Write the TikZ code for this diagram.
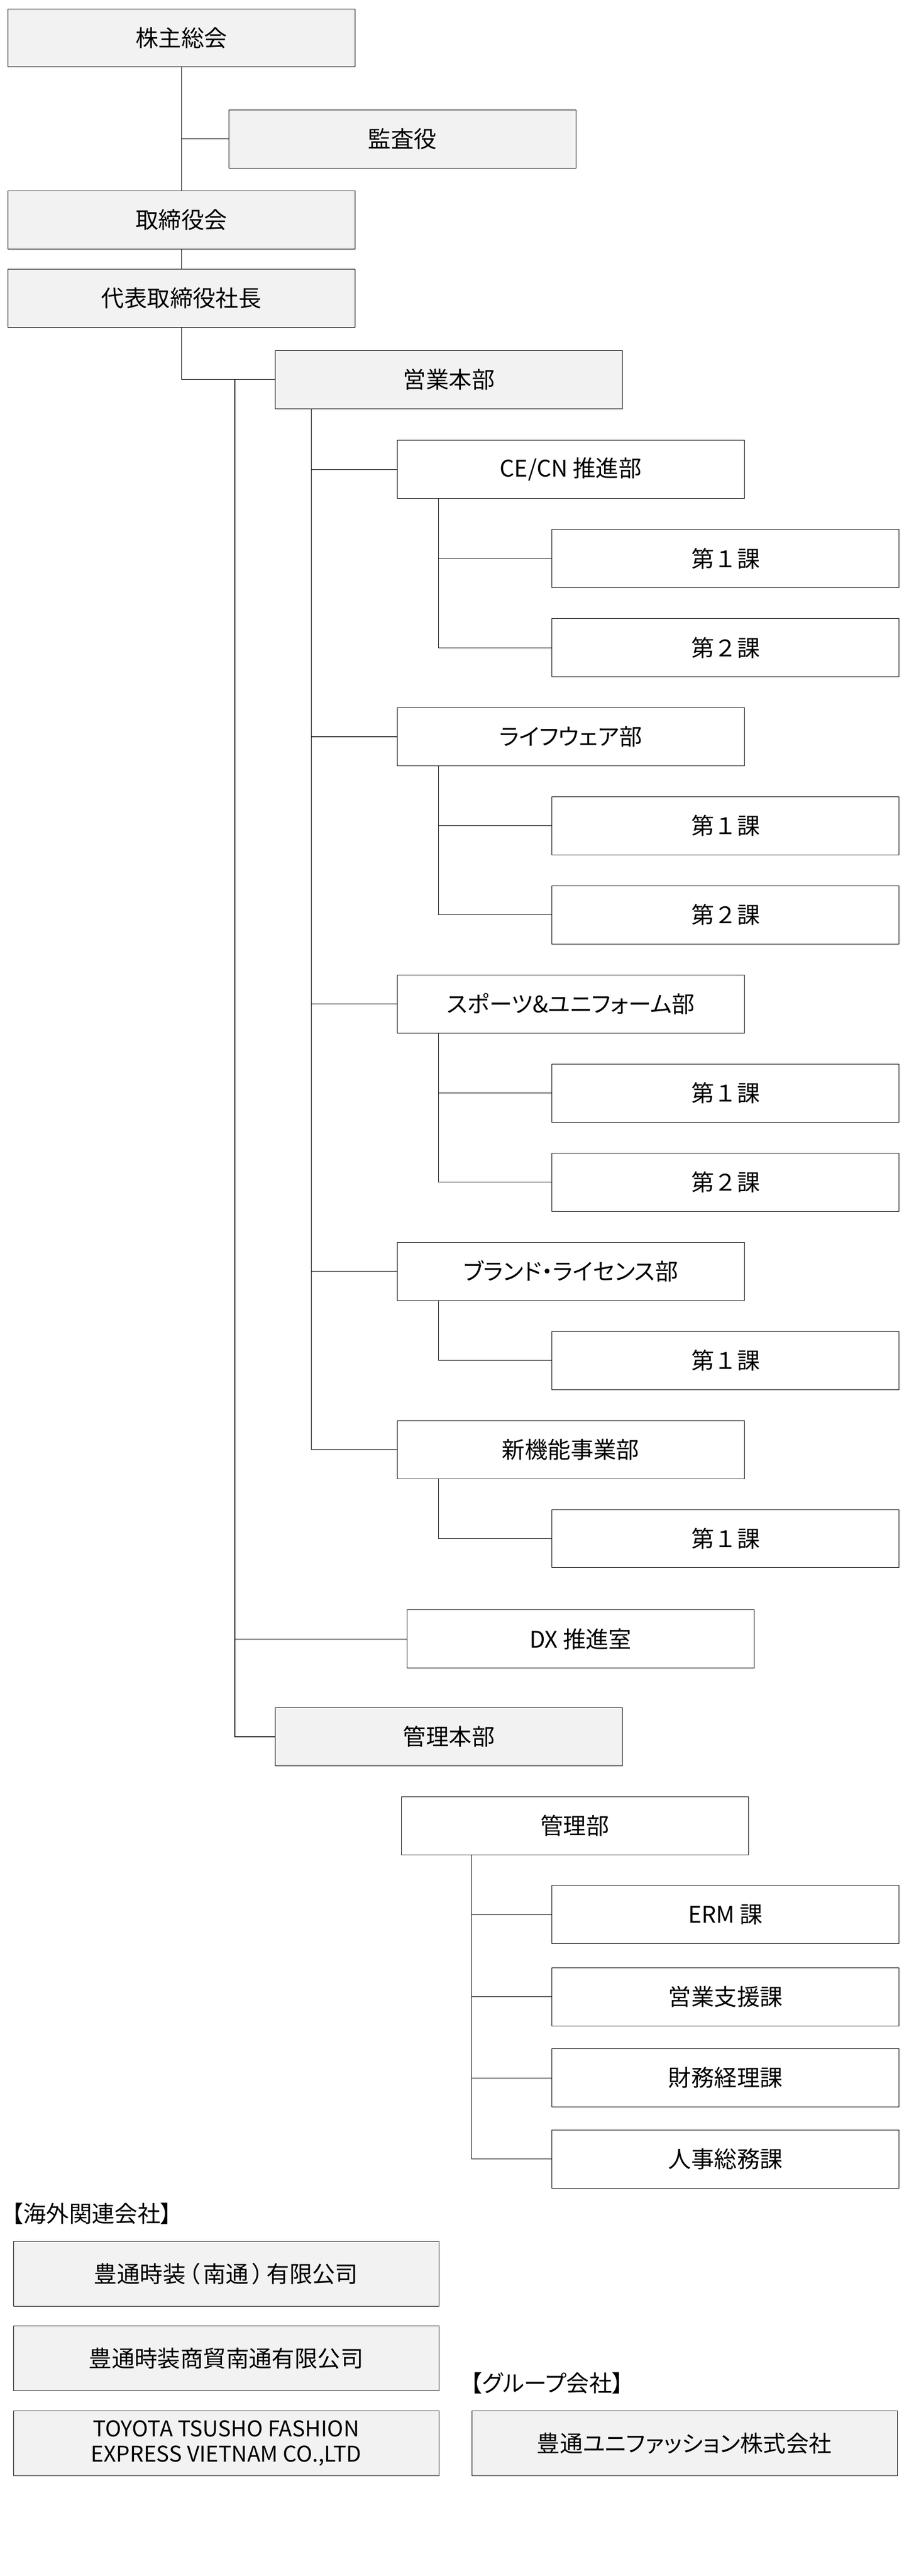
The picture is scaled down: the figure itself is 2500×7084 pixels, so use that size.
\documentclass[tikz,border=0pt]{standalone}
\usepackage{fontspec}
\setmainfont{Noto Sans CJK JP}[RawFeature=+palt]
\newfontfamily\jpfull{Noto Sans CJK JP}
\usepackage{tikz}
\usetikzlibrary{positioning}
\definecolor{boxgray}{HTML}{F2F2F2}

\begin{document}
\begin{tikzpicture}[x=0.1mm,y=-0.1mm,
    orgbox/.style={draw=black,line width=0.3pt,minimum width=95.5mm,
        minimum height=16mm,inner sep=0pt,font=\fontsize{17.9}{21}\selectfont},
    hqbox/.style={orgbox,fill=boxgray},
    unitbox/.style={orgbox,fill=white},
    cobox/.style={orgbox,fill=boxgray,minimum width=117mm,minimum height=17.9mm,
        align=center},
    heading/.style={anchor=west,inner sep=0pt,font=\fontsize{17.9}{21}\selectfont},
    conn/.style={line width=0.45pt}]

\useasboundingbox (0,0) rectangle (2500,7084);

% top of the chart
\node[hqbox,minimum height=15.8mm] (kabunushi) at (499,104) {株主総会};
\node[hqbox] (kansa) at (1107,382) {監査役};
\node[hqbox] (torishimari) at (499,605) {取締役会};
\node[hqbox] (shacho) at (499,820) {代表取締役社長};
\node[hqbox] (eigyo) at (1235,1044) {営業本部};

% departments of eigyo honbu
\node[unitbox] (cecn) at (1570,1291) {CE/CN 推進部};
\node[unitbox] (life) at (1570,2026) {ライフウェア部};
\node[unitbox] (sports) at (1570,2761) {スポーツ\&ユニフォーム部};
\node[unitbox] (brand) at (1570,3496) {ブランド・ライセンス部};
\node[unitbox] (shinki) at (1570,3986) {新機能事業部};

% sections
\foreach \k/\name/\descr in {1/cecnA/第１課,2/cecnB/第２課,4/lifeA/第１課,
    5/lifeB/第２課,7/sportsA/第１課,8/sportsB/第２課,10/brandA/第１課,12/shinkiA/第１課}
\node[unitbox] (\name) at (1996,{1291+245*\k}) {\jpfull\descr};

\node[unitbox] (dx) at (1597,4507) {DX 推進室};
\node[hqbox] (kanri) at (1235,4776) {管理本部};

% kanri bu
\node[unitbox] (kanribu) at (1581,5021) {管理部};
\node[unitbox] (erm) at (1996,5265) {ERM 課};
\node[unitbox] (shien) at (1996,5491) {営業支援課};
\node[unitbox] (zaimu) at (1996,5714) {財務経理課};
\node[unitbox] (jinji) at (1996,5937) {人事総務課};

% group companies
\node[heading] (kaigai) at (32,6088) {【海外関連会社】};
\node[cobox] (nantong) at (622,6253)
    {豊通時装\hspace{0.12em}（\hspace{0.15em}南通\hspace{0.15em}）\hspace{0.12em}有限公司};
\node[cobox] (shobo) at (622,6485) {豊通時装商貿南通有限公司};
\node[cobox,font=\fontsize{17}{19.6}\selectfont] (vietnam) at (622,6719)
    {TOYOTA TSUSHO FASHION\\EXPRESS VIETNAM CO.,LTD};
\node[heading] (group) at (1294,6554) {【グループ会社】};
\node[cobox] (unifashion) at (1883,6719) {豊通ユニファッション株式会社};

% draw vertical lines
\draw[conn] (kabunushi.south) -- (torishimari.north);
\draw[conn] (kansa.west) -- (kansa.west -| kabunushi.south);
\draw[conn] (torishimari.south) -- (shacho.north);
\draw[conn] (shacho.south) |- (eigyo.west);

\coordinate (spine) at (646,1044);
\foreach \n in {dx,kanri}
\draw[conn] (spine) |- (\n.west);

\foreach \n in {cecn,life,sports,brand,shinki}
\draw[conn] ([xshift=9.9mm]eigyo.south west) |- (\n.west);

\foreach \dept/\sect in {cecn/cecnA,cecn/cecnB,life/lifeA,life/lifeB,
    sports/sportsA,sports/sportsB,brand/brandA,shinki/shinkiA}
\draw[conn] ([xshift=11.4mm]\dept.south west) |- (\sect.west);

\foreach \sect in {erm,shien,zaimu,jinji}
\draw[conn] ([xshift=19.4mm]kanribu.south west) |- (\sect.west);
\end{tikzpicture}
\end{document}
